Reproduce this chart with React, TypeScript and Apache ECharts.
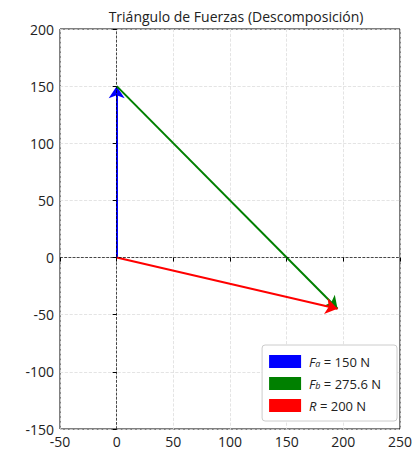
import React, { useEffect, useRef } from "react";
import * as echarts from "echarts";

const xTicks = [-50, 0, 50, 100, 150, 200, 250];
const yTicks = [-150, -100, -50, 0, 50, 100, 150, 200];
const origin = [0, 0];
const Fa = [0, 150];
const R = [194.9, -44.85];
const names = ["Fa", "Fb", "R"];
const labels = ["{it|F}{sub|a}{n| = 150 N}", "{it|F}{sub|b}{n| = 275.6 N}", "{it|R}{n| = 200 N}"];
const colors = ["#0000ff", "#008000", "#ff0000"];

export default function App() {
  const ref = useRef<HTMLDivElement>(null);
  useEffect(() => {
    const chart = echarts.init(ref.current!, null, { renderer: "svg" });
    const segs = [
      [origin, Fa],
      [Fa, R],
      [origin, R],
    ];
    const font = "Open Sans, sans-serif";
    chart.setOption({
      animation: false,
      title: {
        text: "Triángulo de Fuerzas (Descomposición)",
        left: 231,
        top: 4,
        textAlign: "center",
        textStyle: { fontSize: 14, fontWeight: "normal", color: "#222", fontFamily: font },
      },
      grid: { left: 60, right: 12, top: 29, bottom: 25, show: true, borderColor: "#000", borderWidth: 1 },
      xAxis: {
        type: "value",
        min: xTicks[0],
        max: xTicks[xTicks.length - 1],
        interval: 50,
        axisLine: { show: false },
        axisTick: { show: true, length: 4, lineStyle: { color: "#000" } },
        axisLabel: { color: "#222", fontSize: 14, fontFamily: font, margin: 5 },
        splitLine: { show: true, lineStyle: { color: "#ddd", type: "dashed", width: 0.8 } },
      },
      yAxis: {
        type: "value",
        min: yTicks[0],
        max: yTicks[yTicks.length - 1],
        interval: 50,
        axisLine: { show: false },
        axisTick: { show: true, length: 4, lineStyle: { color: "#000" } },
        axisLabel: { color: "#222", fontSize: 14, fontFamily: font, margin: 6 },
        splitLine: { show: true, lineStyle: { color: "#ddd", type: "dashed", width: 0.8 } },
      },
      legend: {
        orient: "vertical",
        right: 18,
        bottom: 33,
        icon: "rect",
        itemWidth: 30,
        itemHeight: 11,
        itemGap: 9,
        padding: [10, 16, 9, 7],
        backgroundColor: "#fff",
        borderColor: "#ccc",
        borderWidth: 1,
        borderRadius: 3,
        data: names,
        formatter: (n: string) => labels[names.indexOf(n)],
        textStyle: {
          fontFamily: font,
          fontSize: 13,
          color: "#222",
          padding: [0, 0, 0, 4],
          rich: {
            it: { fontStyle: "italic", fontSize: 13, fontFamily: font, color: "#222" },
            sub: { fontStyle: "italic", fontSize: 9, fontFamily: font, color: "#222", verticalAlign: "bottom", padding: [4, 0, 0, 0] },
            n: { fontSize: 13, fontFamily: font, color: "#222" },
          },
        },
      },
      series: [
        {
          type: "line",
          data: [],
          silent: true,
          markLine: {
            silent: true,
            symbol: "none",
            label: { show: false },
            lineStyle: { color: "#000", type: "dashed", width: 0.7 },
            data: [{ xAxis: 0 }, { yAxis: 0 }],
          },
        },
        ...segs.map((s, i) => ({
          type: "lines",
          name: names[i],
          coordinateSystem: "cartesian2d",
          color: colors[i],
          symbol: ["none", "arrow"],
          symbolSize: [7, 12],
          z: 3,
          lineStyle: { color: colors[i], width: 2, opacity: 1 },
          data: [{ coords: s }],
        })),
      ],
    });
    return () => chart.dispose();
  }, []);
  return <div ref={ref} style={{ width: 415, height: 454, position: "absolute", left: 0, top: 0 }} />;
}
